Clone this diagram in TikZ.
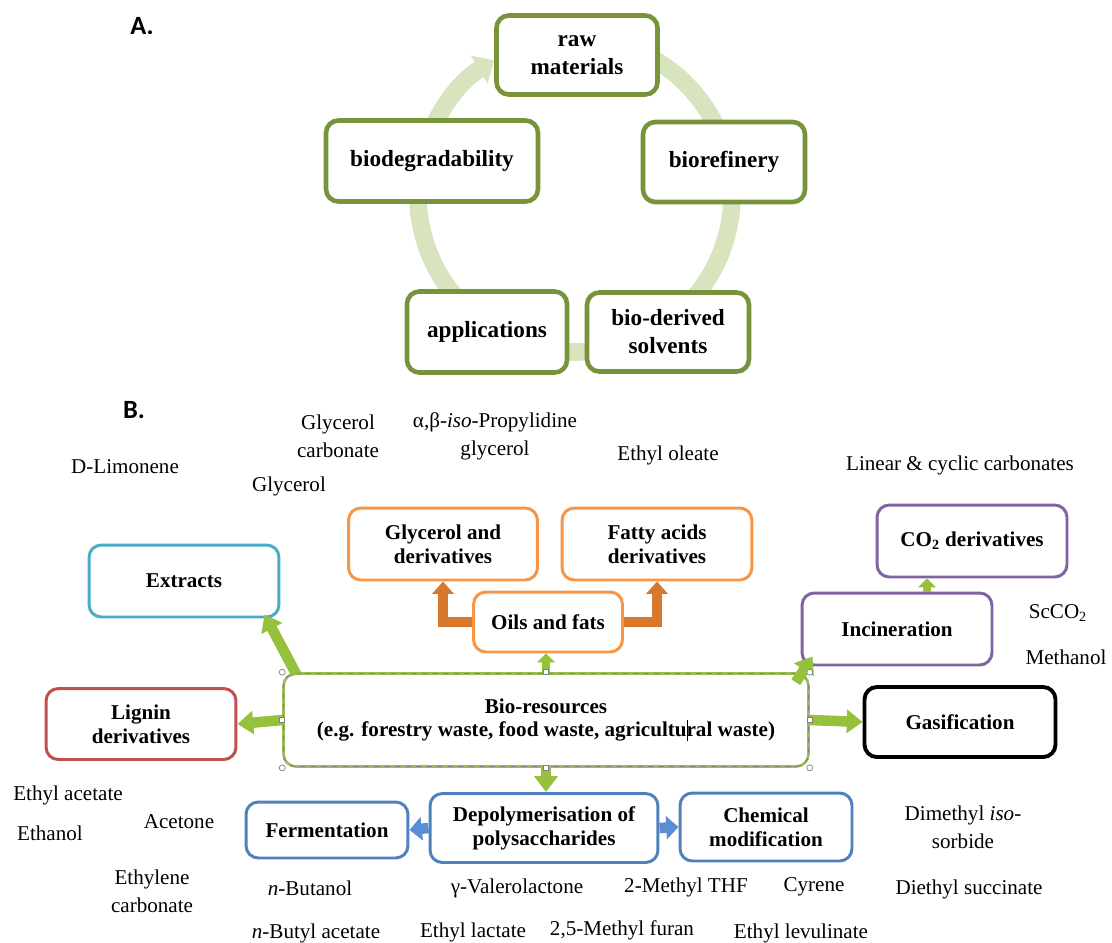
\documentclass[tikz,border=0pt]{standalone}
\usepackage{fontspec}
\setmainfont{Liberation Serif}
\newfontfamily\labelsans{Carlito}
\usepackage{xcolor}
\usetikzlibrary{arrows.meta,calc}
\definecolor{cyclegreen}{HTML}{77933C}
\definecolor{bandgreen}{HTML}{D7E4BD}
\definecolor{extractblue}{HTML}{4BACC6}
\definecolor{oilorange}{HTML}{F79646}
\definecolor{arroworange}{HTML}{D8782C}
\definecolor{copurple}{HTML}{8064A2}
\definecolor{ligninred}{HTML}{C0504D}
\definecolor{polyblue}{HTML}{4F81BD}
\definecolor{arrowblue}{HTML}{5B8DD6}
\definecolor{biogreen}{HTML}{9BBB59}
\definecolor{arrowgreen}{HTML}{95C13D}

\tikzset{
  cyclebox/.style={draw=cyclegreen, line width=2.6pt, rounded corners=7pt, fill=white,
    align=center, inner sep=0pt, font=\fontsize{13.2}{16}\selectfont\bfseries},
  resbox/.style={line width=1.7pt, rounded corners=7pt, fill=white,
    align=center, inner sep=0pt, font=\fontsize{12}{13.6}\selectfont\bfseries},
  solvent/.style={align=center, inner sep=0pt, font=\fontsize{12}{16}\selectfont},
  panel/.style={inner sep=0pt, font=\labelsans\fontsize{15}{17}\selectfont\bfseries},
  greenarr/.style={draw=arrowgreen, line width=6pt, -{Triangle[width=13pt,length=9pt]}},
  smallarr/.style={draw=arrowgreen, line width=5pt, -{Triangle[width=10pt,length=5pt]}},
  orangearr/.style={draw=arroworange, line width=5.5pt, -{Triangle[width=12pt,length=7pt]}},
  bluearr/.style={draw=arrowblue, line width=6pt, -{Triangle[width=13pt,length=7pt]}},
  handle/.style={draw=gray, fill=white, line width=0.4pt}
}

\begin{document}
\begin{tikzpicture}[x=0.02cm, y=-0.02cm]

  % bounding box
  \useasboundingbox (0,0) rectangle (1112,943);

  % panel labels
  \node[panel] (panela) at (142, 26) {A.};
  \node[panel] (panelb) at (134, 410) {B.};

  % cycle band
  \draw[bandgreen, line width=10pt, -{Triangle[width=18pt,length=10pt]}]
    (575,195) ++(-80:157) arc[start angle=-80, end angle=239, radius=157];

  % cycle boxes
  \node[cyclebox, minimum width=3.22cm, minimum height=1.58cm] (raw) at (577, 55) {raw\\materials};
  \node[cyclebox, minimum width=3.24cm, minimum height=1.6cm] (biorefinery) at (724, 162) {biorefinery};
  \node[cyclebox, minimum width=3.24cm, minimum height=1.58cm] (solvents) at (668, 332) {bio-derived\\solvents};
  \node[cyclebox, minimum width=3.2cm, minimum height=1.62cm] (applications) at (487, 332) {applications};
  \node[cyclebox, minimum width=4.24cm, minimum height=1.62cm] (biodeg) at (432, 161) {biodegradability};

  % solvents around the map
  \node[solvent] (glyccarb) at (338, 436) {Glycerol\\carbonate};
  \node[solvent] (solketal) at (495, 436) {α,β-\textit{iso}-Propylidine\\glycerol};
  \node[solvent] (oleate) at (668, 455) {Ethyl oleate};
  \node[solvent] (limonene) at (125, 467) {D-Limonene};
  \node[solvent] (glycerol) at (289, 486) {Glycerol};
  \node[solvent] (carbonates) at (960, 465) {Linear \& cyclic carbonates};
  \node[solvent] (scco) at (1058, 613) {ScCO\textsubscript{2}};
  \node[solvent] (methanol) at (1066, 657) {Methanol};
  \node[solvent] (etac) at (68, 795) {Ethyl acetate};
  \node[solvent] (ethanol) at (50, 833) {Ethanol};
  \node[solvent] (acetone) at (179, 822) {Acetone};
  \node[solvent] (ethcarb) at (152, 891) {Ethylene\\carbonate};
  \node[solvent] (butanol) at (310, 888) {\textit{n}-Butanol};
  \node[solvent] (butac) at (316, 933) {\textit{n}-Butyl acetate};
  \node[solvent] (gvl) at (517, 888) {γ-Valerolactone};
  \node[solvent] (lactate) at (473, 932) {Ethyl lactate};
  \node[solvent] (mthf) at (686, 887) {2-Methyl THF};
  \node[solvent] (furan) at (622, 930) {2,5-Methyl furan};
  \node[solvent] (cyrene) at (814, 887) {Cyrene};
  \node[solvent] (levulinate) at (801, 933) {Ethyl levulinate};
  \node[solvent] (isosorbide) at (963, 827) {Dimethyl \textit{iso}-\\sorbide};
  \node[solvent] (succinate) at (969, 889) {Diethyl succinate};

  % resource boxes
  \node[resbox, draw=extractblue, minimum width=3.8cm, minimum height=1.44cm] (extracts) at (184, 581) {Extracts};
  \node[resbox, draw=oilorange, minimum width=3.78cm, minimum height=1.44cm] (glyc) at (443, 544) {Glycerol and\\derivatives};
  \node[resbox, draw=oilorange, minimum width=3.8cm, minimum height=1.44cm] (fatty) at (657, 544) {Fatty acids\\derivatives};
  \node[resbox, draw=oilorange, minimum width=2.98cm, minimum height=1.2cm] (oils) at (548, 622) {Oils and fats};
  \node[resbox, draw=copurple, minimum width=3.8cm, minimum height=1.44cm] (co) at (972, 541) {CO\textsubscript{2} derivatives};
  \node[resbox, draw=copurple, minimum width=3.8cm, minimum height=1.44cm] (incin) at (897, 629) {Incineration};
  \node[resbox, draw=ligninred, minimum width=3.8cm, minimum height=1.42cm] (lignin) at (141, 724) {Lignin\\derivatives};
  \node[resbox, draw=black, line width=2.2pt, minimum width=3.82cm, minimum height=1.4cm] (gasif) at (960, 722) {Gasification};
  \node[resbox, draw=polyblue, minimum width=3.24cm, minimum height=1.12cm] (ferm) at (327, 830) {Fermentation};
  \node[resbox, draw=polyblue, minimum width=4.56cm, minimum height=1.38cm] (depoly) at (544, 828) {Depolymerisation of\\polysaccharides};
  \node[resbox, draw=polyblue, minimum width=3.44cm, minimum height=1.36cm] (chem) at (766, 827) {Chemical\\modification};

  % bio-resources box
  \node[resbox, draw=biogreen, line width=1.5pt, postaction={draw=gray, dashed, line width=0.5pt},
    minimum width=10.5cm, minimum height=1.86cm] (bio) at (546, 720)
    {Bio-resources\\(e.g. forestry waste, food waste, agricultu\rlap{\rule[-2.5pt]{0.6pt}{12pt}}ral waste)};

  % arrows out of bio-resources
  \draw[greenarr] ($(bio.north west)+(14,2)$) -- ($(extracts.south east)+(-16,-4)$);
  \draw[greenarr] (bio.west) -- (lignin.east);
  \draw[greenarr] (bio.east) -- (gasif.west);
  \draw[greenarr] ($(bio.north east)+(-14,10)$) -- ($(incin.south west)+(12,-10)$);
  \draw[greenarr] (bio.south) -- (bio.south |- depoly.north);
  \draw[smallarr] (bio.north) -- (bio.north |- oils.south);

  % incineration to CO2
  \coordinate (cotail) at ($(incin.north)+(30,0)$);
  \draw[smallarr] (cotail) -- (cotail |- co.south);

  % oils and fats
  \draw[orangearr] (oils.west) -| (glyc.south);
  \draw[orangearr] (oils.east) -| (fatty.south);

  % polysaccharides
  \draw[bluearr] (depoly.west) -- (ferm.east);
  \draw[bluearr] (depoly.east) -- (chem.west);

  % selection handles
  \foreach \a in {north west, north east, south west, south east}
    \draw[handle] (bio.\a) circle[radius=3];
  \foreach \a in {west, east, north, south}
    \draw[handle] ($(bio.\a)+(-2.5,-2.5)$) rectangle ++(5,5);

\end{tikzpicture}
\end{document}
